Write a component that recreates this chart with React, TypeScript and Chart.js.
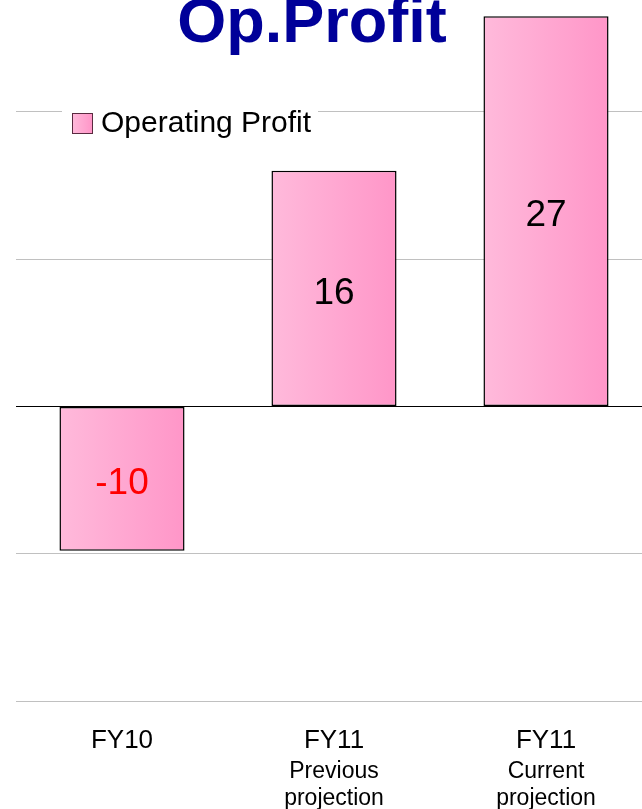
import React, { useEffect, useRef } from "react";
import { Chart, registerables } from "chart.js";

Chart.register(...registerables);

// ---- data ----
const titleText = "Op.Profit";
const seriesName = "Operating Profit";
const categories = ["FY10", "FY11", "FY11"];
const subLabels = [[], ["Previous", "projection"], ["Current", "projection"]];
const operatingProfit = [-9.8, 16, 26.5];
const yMin = -20;
const yMax = 27.6;
const yStep = 10;

const FONT = "'Liberation Sans', Arial, Helvetica, sans-serif";
const PINK_LIGHT = "#ffbadb";
const PINK_DARK = "#ff96c8";

function makeGradient(ctx: CanvasRenderingContext2D, x0: number, x1: number) {
  const g = ctx.createLinearGradient(x0, 0, x1, 0);
  g.addColorStop(0, PINK_LIGHT);
  g.addColorStop(1, PINK_DARK);
  return g;
}

const overlayPlugin = {
  id: "overlay",
  afterDatasetsDraw(chart: any) {
    const ctx = chart.ctx as CanvasRenderingContext2D;
    const meta = chart.getDatasetMeta(0);
    const data = chart.data.datasets[0].data as number[];
    ctx.save();
    ctx.font = `37px ${FONT}`;
    ctx.textAlign = "center";
    ctx.textBaseline = "middle";
    meta.data.forEach((bar: any, i: number) => {
      const v = data[i];
      const cy = (bar.y + bar.base) / 2;
      ctx.fillStyle = v < 0 ? "#ff0000" : "#000000";
      ctx.fillText(String(Math.round(v)), bar.x, cy + 5);
    });
    ctx.restore();
  },
  afterDraw(chart: any) {
    const ctx = chart.ctx as CanvasRenderingContext2D;
    const area = chart.chartArea;
    const xs = chart.scales.x;
    ctx.save();
    // sub labels under the category ticks
    ctx.font = `23px ${FONT}`;
    ctx.fillStyle = "#000000";
    ctx.textAlign = "center";
    ctx.textBaseline = "middle";
    subLabels.forEach((lines: string[], i: number) => {
      const x = xs.getPixelForValue(i);
      lines.forEach((line, j) => {
        ctx.fillText(line, x, area.bottom + 71 + j * 27);
      });
    });
    // title
    ctx.font = `bold 63px ${FONT}`;
    ctx.fillStyle = "#000099";
    ctx.textAlign = "center";
    ctx.textBaseline = "alphabetic";
    ctx.fillText(titleText, 312, 42);
    // legend
    const lx = area.left + 46;
    const ly = 104;
    ctx.fillStyle = "#ffffff";
    ctx.fillRect(lx, ly, 256, 38);
    const sx = lx + 10;
    const sy = ly + 9;
    ctx.fillStyle = makeGradient(ctx, sx, sx + 20);
    ctx.fillRect(sx, sy, 20, 20);
    ctx.strokeStyle = "#5a2a40";
    ctx.lineWidth = 1;
    ctx.strokeRect(sx + 0.5, sy + 0.5, 20, 20);
    ctx.fillStyle = "#000000";
    ctx.font = `30px ${FONT}`;
    ctx.textAlign = "left";
    ctx.textBaseline = "middle";
    ctx.fillText(seriesName, sx + 29, sy + 11);
    ctx.restore();
  },
};

export default function App() {
  const canvasRef = useRef<HTMLCanvasElement | null>(null);

  useEffect(() => {
    const canvas = canvasRef.current;
    if (!canvas) return;
    const chart = new Chart(canvas, {
      type: "bar",
      data: {
        labels: categories,
        datasets: [
          {
            label: seriesName,
            data: operatingProfit,
            backgroundColor: (c: any) => {
              const ch = c.chart;
              const xs = ch.scales?.x;
              if (!xs || !ch.chartArea) return PINK_DARK;
              const cx = xs.getPixelForValue(c.dataIndex);
              const w = (xs.width / categories.length) * 0.59;
              return makeGradient(ch.ctx, cx - w / 2, cx + w / 2);
            },
            borderColor: "#000000",
            borderWidth: 1.5,
            borderSkipped: false,
            barPercentage: 0.59,
            categoryPercentage: 1,
          },
        ],
      },
      options: {
        responsive: false,
        animation: false,
        devicePixelRatio: 1,
        layout: { padding: { left: 16, right: 0, top: 0, bottom: 28 } },
        plugins: {
          legend: { display: false },
          title: { display: false },
          tooltip: { enabled: false },
        },
        scales: {
          x: {
            type: "category",
            offset: true,
            grid: { display: false, drawTicks: false },
            border: { display: false },
            ticks: {
              color: "#000000",
              font: { family: FONT, size: 26, lineHeight: 1.2 },
              padding: 24.4,
              autoSkip: false,
              maxRotation: 0,
              minRotation: 0,
            },
          },
          y: {
            min: yMin,
            max: yMax,
            border: { display: false },
            grid: {
              drawTicks: false,
              lineWidth: 1,
              color: (c: any) =>
                c.tick && c.tick.value === 0 ? "#000000" : "#c0c0c0",
            },
            ticks: { display: false, stepSize: yStep, includeBounds: false },
          },
        },
      },
      plugins: [overlayPlugin],
    } as any);
    return () => chart.destroy();
  }, []);

  return (
    <div
      style={{
        position: "fixed",
        left: 0,
        top: 0,
        width: 642,
        height: 809,
        overflow: "hidden",
        background: "#ffffff",
      }}
    >
      <canvas
        ref={canvasRef}
        width={652}
        height={809}
        style={{ display: "block", width: 652, height: 809 }}
      />
    </div>
  );
}
